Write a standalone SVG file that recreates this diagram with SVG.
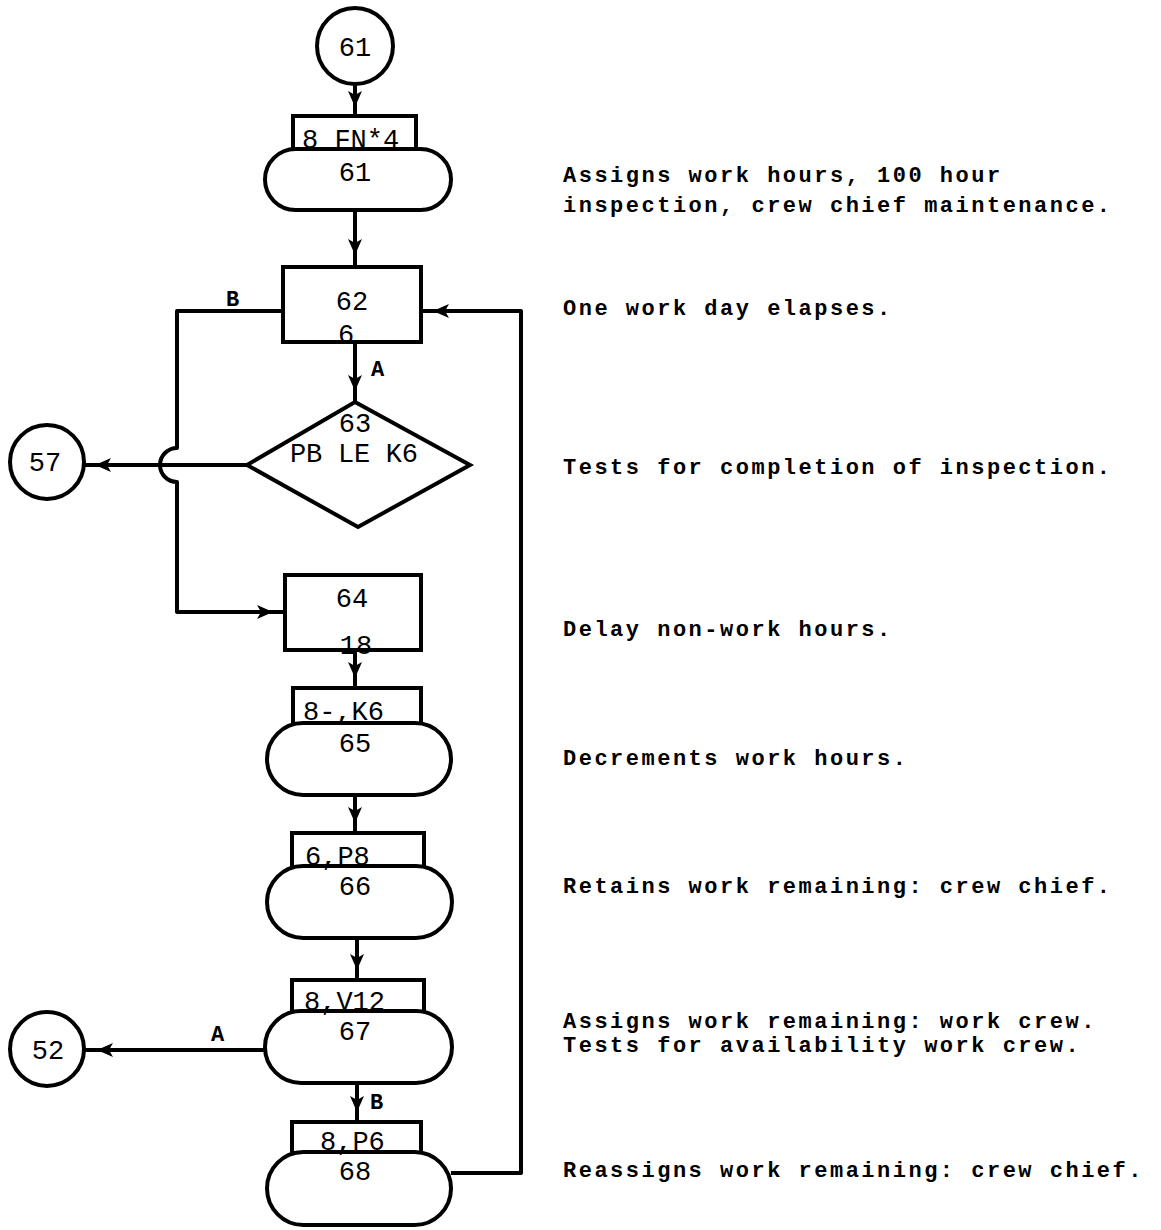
<svg xmlns="http://www.w3.org/2000/svg" width="1161" height="1230" viewBox="0 0 1161 1230">
  <style>
    .ln { fill: none; stroke: #000; stroke-width: 4; stroke-linejoin: round; }
    .sh { fill: #fff; stroke: #000; stroke-width: 4; }
    .t { font-family: "Liberation Mono", "DejaVu Sans Mono", monospace; font-size: 27px; fill: #000; }
    .lbl { font-family: "Liberation Mono", "Courier New", monospace; font-size: 22px; font-weight: bold; fill: #000; }
    .note { font-family: "Liberation Mono", "Courier New", monospace; font-size: 22px; font-weight: bold; letter-spacing: 2.5px; fill: #000; }
  </style>
  <defs>
    <marker id="ah" viewBox="0 0 16 14" refX="15" refY="7" markerWidth="16" markerHeight="14" markerUnits="userSpaceOnUse" orient="auto">
      <path d="M0,0 L16,7 L0,14 L4,7 Z" fill="#000"/>
    </marker>
  </defs>

  <!-- connectors -->
  <g id="connectors">
    <!-- 61 connector -> block 61 -->
    <path class="ln" d="M355,85 V106" marker-end="url(#ah)"/>
    <path class="ln" d="M355,106 V117"/>
    <!-- 61 -> 62 -->
    <path class="ln" d="M355,210 V254" marker-end="url(#ah)"/>
    <path class="ln" d="M355,254 V267"/>
    <!-- 62 -> 63 (A) -->
    <path class="ln" d="M355,342 V390" marker-end="url(#ah)"/>
    <path class="ln" d="M355,390 V402"/>
    <text class="lbl" x="371" y="376">A</text>
    <!-- 62 -> 64 (B), hops over the 63 exit line -->
    <path class="ln" d="M283,311 H177 V448 A17,17 0 0 0 177,482 V612 H272" marker-end="url(#ah)"/>
    <path class="ln" d="M272,612 H285"/>
    <text class="lbl" x="226" y="306">B</text>
    <!-- 63 -> 57 -->
    <path class="ln" d="M247,465 H96" marker-end="url(#ah)"/>
    <path class="ln" d="M96,465 H85"/>
    <!-- 64 -> 65 -->
    <path class="ln" d="M355,650 V677" marker-end="url(#ah)"/>
    <path class="ln" d="M355,677 V688"/>
    <!-- 65 -> 66 -->
    <path class="ln" d="M355,795 V822" marker-end="url(#ah)"/>
    <path class="ln" d="M355,822 V833"/>
    <!-- 66 -> 67 -->
    <path class="ln" d="M357,938 V969" marker-end="url(#ah)"/>
    <path class="ln" d="M357,969 V980"/>
    <!-- 67 -> 52 (A) -->
    <path class="ln" d="M265,1050 H98" marker-end="url(#ah)"/>
    <path class="ln" d="M98,1050 H85"/>
    <text class="lbl" x="211" y="1041">A</text>
    <!-- 67 -> 68 (B) -->
    <path class="ln" d="M357,1083 V1111" marker-end="url(#ah)"/>
    <path class="ln" d="M357,1111 V1122"/>
    <text class="lbl" x="370" y="1109">B</text>
    <!-- 68 -> back to 62 -->
    <path class="ln" d="M451,1173 H521 V311 H434" marker-end="url(#ah)"/>
    <path class="ln" d="M434,311 H421"/>
  </g>

  <!-- connector 61 -->
  <g id="n-c61">
    <circle class="sh" cx="355" cy="46" r="38"/>
    <text class="t" x="355" y="56" text-anchor="middle">61</text>
  </g>

  <!-- block 61 -->
  <g id="n61">
    <rect class="sh" x="293" y="116" width="123" height="34"/>
    <rect class="sh" x="265" y="149" width="186" height="61" rx="30.5"/>
    <text class="t" x="302" y="148">8 FN*4</text>
    <text class="t" x="355" y="181" text-anchor="middle">61</text>
  </g>

  <!-- block 62 -->
  <g id="n62">
    <rect class="sh" x="283" y="267" width="138" height="75"/>
    <text class="t" x="352" y="310" text-anchor="middle">62</text>
    <text class="t" x="346" y="343" text-anchor="middle">6</text>
  </g>

  <!-- decision 63 -->
  <g id="n63">
    <path class="sh" d="M355,402 L470,465 L358,527 L247,465 Z"/>
    <text class="t" x="355" y="432" text-anchor="middle">63</text>
    <text class="t" x="290" y="462" textLength="128">PB LE K6</text>
  </g>

  <!-- connector 57 -->
  <g id="n57">
    <circle class="sh" cx="47" cy="462" r="37"/>
    <text class="t" x="45" y="471" text-anchor="middle">57</text>
  </g>

  <!-- block 64 -->
  <g id="n64">
    <rect class="sh" x="285" y="575" width="136" height="75"/>
    <text class="t" x="352" y="607" text-anchor="middle">64</text>
    <text class="t" x="356" y="654" text-anchor="middle">18</text>
  </g>

  <!-- block 65 -->
  <g id="n65">
    <rect class="sh" x="293" y="688" width="128" height="36"/>
    <rect class="sh" x="267" y="723" width="184" height="72" rx="36"/>
    <text class="t" x="303" y="720">8-,K6</text>
    <text class="t" x="355" y="752" text-anchor="middle">65</text>
  </g>

  <!-- block 66 -->
  <g id="n66">
    <rect class="sh" x="292" y="833" width="132" height="34"/>
    <rect class="sh" x="267" y="866" width="185" height="72" rx="36"/>
    <text class="t" x="305" y="865">6,P8</text>
    <text class="t" x="355" y="895" text-anchor="middle">66</text>
  </g>

  <!-- block 67 -->
  <g id="n67">
    <rect class="sh" x="292" y="980" width="132" height="32"/>
    <rect class="sh" x="265" y="1011" width="187" height="72" rx="36"/>
    <text class="t" x="304" y="1010">8,V12</text>
    <text class="t" x="355" y="1040" text-anchor="middle">67</text>
  </g>

  <!-- connector 52 -->
  <g id="n52">
    <circle class="sh" cx="47" cy="1049" r="37"/>
    <text class="t" x="48" y="1059" text-anchor="middle">52</text>
  </g>

  <!-- block 68 -->
  <g id="n68">
    <rect class="sh" x="292" y="1122" width="129" height="31"/>
    <rect class="sh" x="267" y="1152" width="184" height="73" rx="36.5"/>
    <text class="t" x="320" y="1150">8,P6</text>
    <text class="t" x="355" y="1180" text-anchor="middle">68</text>
  </g>

  <!-- annotations -->
  <g id="notes">
    <text class="note" x="563" y="182">Assigns work hours, 100 hour</text>
    <text class="note" x="563" y="212">inspection, crew chief maintenance.</text>
    <text class="note" x="563" y="315">One work day elapses.</text>
    <text class="note" x="563" y="474">Tests for completion of inspection.</text>
    <text class="note" x="563" y="636">Delay non-work hours.</text>
    <text class="note" x="563" y="765">Decrements work hours.</text>
    <text class="note" x="563" y="893">Retains work remaining: crew chief.</text>
    <text class="note" x="563" y="1028">Assigns work remaining: work crew.</text>
    <text class="note" x="563" y="1052">Tests for availability work crew.</text>
    <text class="note" x="563" y="1177">Reassigns work remaining: crew chief.</text>
  </g>
</svg>
